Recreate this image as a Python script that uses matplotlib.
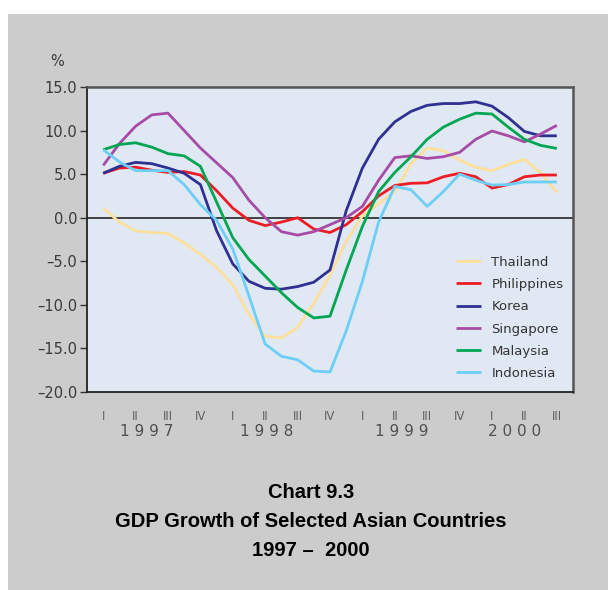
#! /usr/bin/env python
#
# GDP growth of selected Asian countries, 1997-2000 (Chart 9.3).

import matplotlib
matplotlib.use('Agg')
import matplotlib.pyplot as plt
from matplotlib.patches import Rectangle


# Half-quarter steps from 1997 Q1 to 2000 Q3 (0 = 1997 Q1).
periods = [i * 0.5 for i in range(29)]

thailand = [1.1, -0.5, -1.5, -1.7, -1.8, -2.9, -4.2, -5.7, -7.7, -11.1,
            -13.6, -13.8, -12.6, -9.8, -6.6, -2.7, 0.2, 1.6, 3.0, 6.2,
            8.0, 7.7, 6.6, 5.8, 5.4, 6.1, 6.7, 5.2, 2.9]
philippines = [5.1, 5.7, 5.8, 5.45, 5.2, 5.3, 4.9, 3.1, 1.1, -0.3,
               -0.9, -0.5, 0.0, -1.3, -1.7, -0.8, 0.7, 2.5, 3.7, 3.95,
               4.0, 4.7, 5.1, 4.7, 3.4, 3.8, 4.7, 4.9, 4.9]
korea = [5.1, 5.9, 6.35, 6.2, 5.7, 5.1, 3.8, -1.5, -5.3, -7.3,
         -8.1, -8.2, -7.9, -7.4, -6.0, 0.8, 5.7, 9.0, 11.0, 12.2,
         12.9, 13.1, 13.1, 13.3, 12.8, 11.5, 9.9, 9.4, 9.4]
singapore = [6.0, 8.5, 10.5, 11.8, 12.0, 10.0, 8.0, 6.3, 4.6, 2.0,
             0.0, -1.6, -2.0, -1.6, -0.8, 0.0, 1.3, 4.3, 6.9, 7.1,
             6.8, 7.0, 7.5, 9.0, 9.95, 9.4, 8.7, 9.6, 10.6]
malaysia = [7.8, 8.4, 8.6, 8.1, 7.35, 7.1, 5.9, 1.8, -2.3, -4.8,
            -6.7, -8.6, -10.3, -11.5, -11.3, -6.0, -1.0, 3.0, 5.2, 7.0,
            9.0, 10.4, 11.3, 12.0, 11.9, 10.4, 9.0, 8.3, 7.95]
indonesia = [7.8, 6.4, 5.4, 5.4, 5.4, 3.8, 1.5, -0.3, -3.6, -9.0,
             -14.5, -15.9, -16.3, -17.6, -17.7, -13.0, -7.3, -0.5, 3.6, 3.2,
             1.3, 3.0, 5.0, 4.3, 3.75, 3.8, 4.1, 4.1, 4.1]

series = [('Thailand', thailand, '#fedf9c'),
          ('Philippines', philippines, '#ed1c24'),
          ('Korea', korea, '#2e3192'),
          ('Singapore', singapore, '#a64ca6'),
          ('Malaysia', malaysia, '#00a651'),
          ('Indonesia', indonesia, '#6dcff6')]

quarter_labels = ['I', 'II', 'III', 'IV'] * 3 + ['I', 'II', 'III']
years = ['1997', '1998', '1999', '2000']
year_pos = [1.35, 5.05, 9.2, 12.7]
y_ticks = [15, 10, 5, 0, -5, -10, -15, -20]


fig = plt.figure(figsize=(6.08, 5.90), dpi=100)
fig.patch.set_facecolor('white')
fig.patches.append(Rectangle((8 / 608, 0), 1, 1 - 14 / 590,
                             transform=fig.transFigure,
                             facecolor='#cccccc', edgecolor='none',
                             zorder=-10))

ax = fig.add_axes([87 / 608, 1 - 392 / 590, 486 / 608, 305 / 590])
ax.set_facecolor('#e0e8f4')

for name, values, colour in series:
    ax.plot(periods, values, color=colour, lw=2.0, label=name,
            solid_joinstyle='round', solid_capstyle='butt')

ax.axhline(0, color='#333333', lw=1.3, zorder=1)

ax.set_xlim(-0.5, 14.5)
ax.set_ylim(-20, 15)
ax.set_yticks(y_ticks)
ax.set_yticklabels([('%.1f' % v).replace('-', '\u2013') for v in y_ticks],
                   fontsize=10.5, color='#3a3a3a')
ax.tick_params(axis='y', direction='out', length=5, width=1,
               color='#333333', pad=2)

ax.set_xticks(range(len(quarter_labels)))
ax.set_xticklabels(quarter_labels, fontsize=8.5, color='#606060')
ax.tick_params(axis='x', length=0, pad=13)

for yr, xp in zip(years, year_pos):
    ax.text(xp, -24.5, ' '.join(yr), ha='center', va='center',
            fontsize=11, color='#505050')

for side in ['left', 'bottom']:
    ax.spines[side].set_color('#222222')
    ax.spines[side].set_linewidth(1.3)
for side in ['top', 'right']:
    ax.spines[side].set_color('#555555')
    ax.spines[side].set_linewidth(1.8)

leg = ax.legend(loc='upper left', bbox_to_anchor=(0.745, 0.468),
                frameon=False, fontsize=9.5, handlelength=1.9,
                handletextpad=0.8, labelspacing=0.7, borderpad=0)
for t in leg.get_texts():
    t.set_color('#333333')

fig.text(57 / 608, 1 - 62 / 590, '%', fontsize=10.5, color='#3a3a3a',
         ha='center', va='center')

title_lines = ['Chart 9.3', 'GDP Growth of Selected Asian Countries',
               '1997 \u2013  2000']
for k, line in enumerate(title_lines):
    fig.text(311 / 608, 1 - (493 + 28.5 * k) / 590, line, ha='center',
             va='center', fontsize=14.5, fontweight='bold',
             family='Liberation Sans', color='black')

plt.savefig('out.png', dpi=100)
plt.close()
